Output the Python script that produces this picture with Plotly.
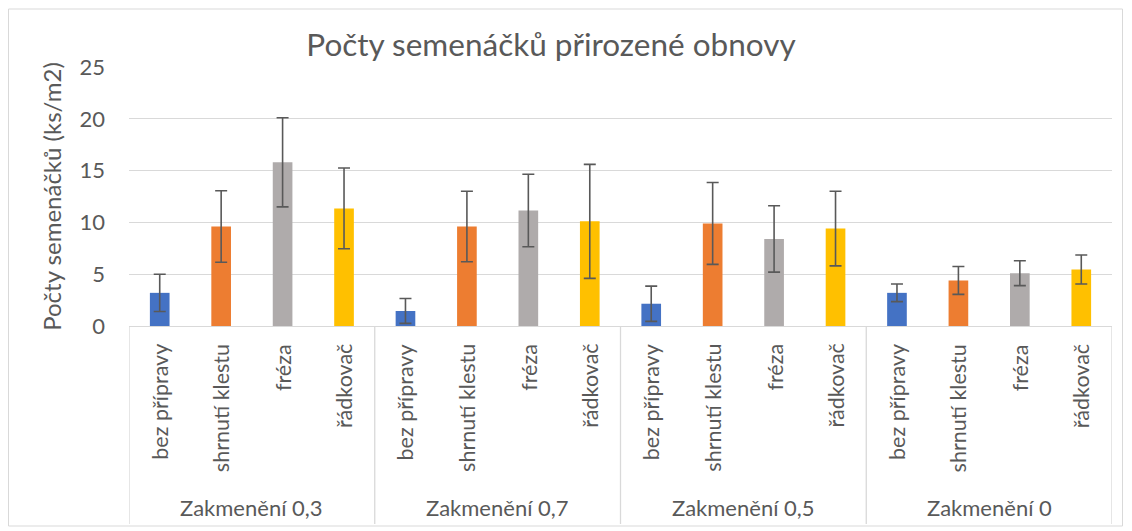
import plotly.graph_objects as go

# Treatments (inner category level) and soil-moss cover groups (outer level)
treatments = ["bez přípravy", "shrnutí klestu", "fréza", "řádkovač"]
groups = ["Zakmenění 0,3", "Zakmenění 0,7", "Zakmenění 0,5", "Zakmenění 0"]

# Mean seedling counts per treatment, one value per group (ks/m2)
bez_pripravy = [3.2, 1.45, 2.15, 3.2]
shrnuti_klestu = [9.6, 9.6, 9.9, 4.4]
freza = [15.8, 11.15, 8.4, 5.1]
radkovac = [11.35, 10.1, 9.4, 5.45]

# Error bar half-widths
err_bez_pripravy = [1.8, 1.2, 1.7, 0.85]
err_shrnuti_klestu = [3.45, 3.4, 3.95, 1.35]
err_freza = [4.3, 3.5, 3.2, 1.2]
err_radkovac = [3.9, 5.5, 3.6, 1.4]

y_ticks = [0, 5, 10, 15, 20, 25]

series = [bez_pripravy, shrnuti_klestu, freza, radkovac]
errors = [err_bez_pripravy, err_shrnuti_klestu, err_freza, err_radkovac]
colors = ["#4472C4", "#ED7D31", "#AFABAB", "#FFC000"]

W, H = 1132, 531
PL, PR, PT, PB = 129, 1112, 67, 326  # plot area in pixels
FONT = "Lato, Open Sans, sans-serif"
TXT = "#595959"


def px_x(px):
    return (px - PL) / (PR - PL)


def px_y(py):
    return (PB - py) / (PB - PT)


n_t = len(treatments)
fig = go.Figure()
for t, (name, vals, errs, col) in enumerate(zip(treatments, series, errors, colors)):
    xs = [g * n_t + t for g in range(len(groups))]
    fig.add_trace(go.Bar(
        x=xs, y=vals, name=name, width=0.32,
        marker=dict(color=col, line=dict(width=0)),
        error_y=dict(type="data", array=errs, visible=True,
                     color=TXT, thickness=1.6, width=6),
        showlegend=False,
    ))

annotations = []
# Rotated treatment labels under each bar
for g in range(len(groups)):
    for t, name in enumerate(treatments):
        annotations.append(dict(
            x=g * n_t + t, xref="x", y=px_y(342), yref="paper",
            text=name, textangle=-90, showarrow=False,
            xanchor="center", yanchor="top",
            font=dict(family=FONT, size=21.5, color=TXT),
        ))
    annotations.append(dict(
        x=g * n_t + (n_t - 1) / 2, xref="x", y=px_y(507), yref="paper",
        text=groups[g], showarrow=False, xanchor="center", yanchor="middle",
        font=dict(family=FONT, size=22, color=TXT),
    ))

shapes = [
    # outer chart border
    dict(type="rect", xref="paper", yref="paper",
         x0=px_x(8.5), x1=px_x(1122.5), y0=px_y(526), y1=px_y(9),
         line=dict(color="#D9D9D9", width=1), layer="below"),
]
# group separators of the category axis
for g in range(len(groups) + 1):
    xb = g * n_t - 0.5
    shapes.append(dict(type="line", xref="x", yref="paper",
                       x0=xb, x1=xb, y0=0, y1=px_y(524),
                       line=dict(color="#D9D9D9", width=1.3)))

fig.update_layout(
    width=W, height=H,
    margin=dict(l=PL, r=W - PR, t=PT, b=H - PB, pad=0),
    paper_bgcolor="white", plot_bgcolor="white",
    barmode="overlay",
    title=dict(text="Počty semenáčků přirozené obnovy",
               x=px_x(551), xanchor="center", xref="paper",
               y=1 - 45 / H, yanchor="middle",
               font=dict(family=FONT, size=31.5, color=TXT)),
    xaxis=dict(range=[-0.5, len(groups) * n_t - 0.5], showticklabels=False,
               showgrid=False, zeroline=False, showline=False, fixedrange=True),
    yaxis=dict(range=[0, 25], tickvals=y_ticks, showgrid=True,
               gridcolor="#D9D9D9", gridwidth=1.3, zeroline=True,
               zerolinecolor="#D9D9D9", zerolinewidth=1.3,
               showline=False, ticks="", ticklabelstandoff=23,
               tickfont=dict(family=FONT, size=22, color=TXT),
               title=dict(text="Počty semenáčků (ks/m2)", standoff=11,
                          font=dict(family=FONT, size=24, color=TXT))),
    annotations=annotations,
    shapes=shapes,
)

fig.write_html("out.html")
